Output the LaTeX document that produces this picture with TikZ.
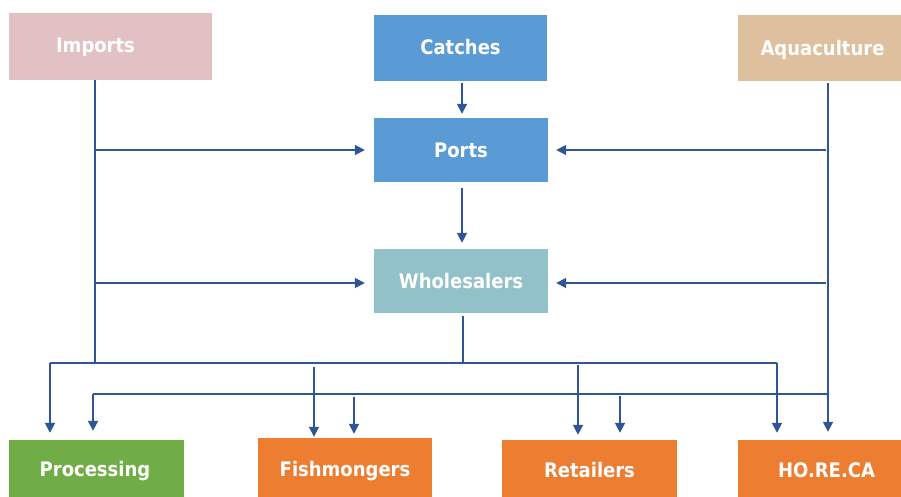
\documentclass[tikz,border=0pt]{standalone}
\usepackage{fontspec}
\setmainfont{DejaVu Sans Condensed}
\usetikzlibrary{arrows.meta}
\definecolor{lineblue}{HTML}{2F5597}
\definecolor{impc}{HTML}{E1C1C3}
\definecolor{bluec}{HTML}{5B9BD5}
\definecolor{aquac}{HTML}{DEC09F}
\definecolor{wholec}{HTML}{92C1C9}
\definecolor{greenc}{HTML}{70AD47}
\definecolor{orangec}{HTML}{ED7D31}
\tikzset{
  box/.style={rectangle, inner sep=0pt},
  txt/.style={text=white, font=\bfseries\fontsize{20}{22}\selectfont, inner sep=0pt,
    text height=14.6pt, text depth=0pt},
  conn/.style={draw=lineblue, line width=1.8pt},
  arr/.style={conn, -{Triangle[length=10pt,width=10pt]}},
}
\begin{document}
\begin{tikzpicture}[x=1pt,y=-1pt]
\useasboundingbox (0,0) rectangle (901,497);
% nodes
\node[box, fill=impc, minimum width=203pt, minimum height=67pt,
  label={[txt, xshift=-15pt, yshift=1pt]center:Imports}] (imp) at (110.5,46.5) {};
\node[box, fill=bluec, minimum width=173pt, minimum height=66pt,
  label={[txt, yshift=0.5pt]center:Catches}] (cat) at (460.5,48) {};
\node[box, fill=aquac, minimum width=163pt, minimum height=66pt,
  label={[txt, xshift=3pt]center:Aquaculture}] (aqu) at (819.5,48) {};
\node[box, fill=bluec, minimum width=174pt, minimum height=64pt,
  label={[txt]center:Ports}] (por) at (461,150) {};
\node[box, fill=wholec, minimum width=174pt, minimum height=64pt,
  label={[txt]center:Wholesalers}] (who) at (461,281) {};
\node[box, fill=greenc, minimum width=175pt, minimum height=57pt,
  label={[txt, xshift=-1.5pt, yshift=-1pt]center:Processing}] (pro) at (96.5,468.5) {};
\node[box, fill=orangec, minimum width=174pt, minimum height=59pt,
  label={[txt, yshift=-2pt]center:Fishmongers}] (fis) at (345,467.5) {};
\node[box, fill=orangec, minimum width=175pt, minimum height=57pt,
  label={[txt, yshift=-2pt]center:Retailers}] (ret) at (589.5,468.5) {};
\node[box, fill=orangec, minimum width=163pt, minimum height=57pt,
  label={[txt, xshift=7pt, yshift=-2pt]center:HO.RE.CA}] (hor) at (819.5,468.5) {};
% junction coordinates
\coordinate (iA) at (95,150);
\coordinate (iB) at (95,283);
\coordinate (iC) at (95,363);
\coordinate (aA) at (826,150);
\coordinate (aB) at (826,283);
\coordinate (aC) at (828,394);
\coordinate (wB) at (463,363);
\coordinate (L1a) at (50,363);
\coordinate (L1b) at (777,363);
\coordinate (L2a) at (93,394);
\coordinate (F1) at (314,367);
\coordinate (F2) at (354,397);
\coordinate (R1) at (578,365);
\coordinate (R2) at (620,396);
% imports vertical
\draw[conn, line width=1.3pt] (imp.south -| iC) -- (iC);
\draw[arr, shorten >=9pt] (iA) -- (por.west);
\draw[arr, shorten >=9pt] (iB) -- (who.west |- iB);
% aquaculture
\draw[conn] ([yshift=-2pt]aqu.south -| aC) -- (aC);
\draw[arr, shorten >=8pt] (aA) -- (por.east);
\draw[arr, shorten >=8pt] (aB) -- (who.east |- aB);
% catches -> ports -> wholesalers
\draw[arr, shorten >=4pt] ([xshift=1.5pt,yshift=-2pt]cat.south) -- ([xshift=1pt]por.north);
\draw[arr, shorten >=6pt] ([xshift=1pt,yshift=-6pt]por.south) -- ([xshift=1pt]who.north);
\draw[conn] ([xshift=2pt,yshift=-3pt]who.south) -- (wB);
% distribution line 1
\draw[conn] (L1a) -- (L1b);
\draw[arr, shorten >=7pt] (L1a) -- (pro.north -| L1a);
\draw[arr, shorten >=7pt] (L1b) -- (hor.north -| L1b);
\draw[arr, shorten >=1pt] (F1) -- (fis.north -| F1);
\draw[arr, shorten >=5pt] (R1) -- (ret.north -| R1);
% distribution line 2
\draw[conn] (L2a) -- (aC);
\draw[arr, shorten >=9pt] (L2a) -- (pro.north -| L2a);
\draw[arr, shorten >=8pt] (aC) -- (hor.north -| aC);
\draw[arr, shorten >=4pt] (F2) -- (fis.north -| F2);
\draw[arr, shorten >=7pt] (R2) -- (ret.north -| R2);
\end{tikzpicture}
\end{document}
